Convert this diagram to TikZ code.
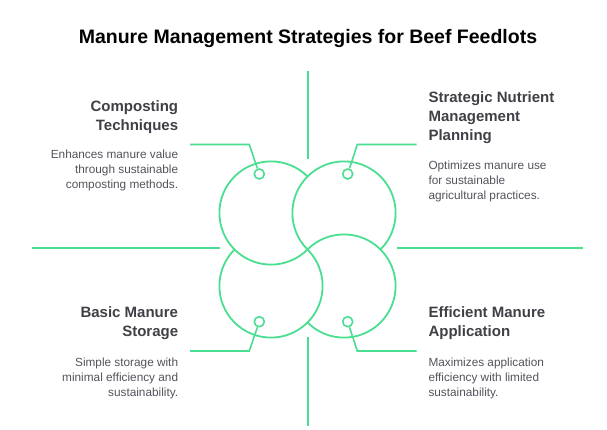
\documentclass[tikz,border=0pt]{standalone}
\usepackage{fontspec}
\setmainfont{Liberation Sans}
\usepackage{xcolor}
\usepackage{tikz}

\definecolor{ringgreen}{HTML}{4ADE91}
\definecolor{headgray}{HTML}{3F3F46}
\definecolor{descgray}{HTML}{52525B}

\begin{document}
\begin{tikzpicture}[x=1pt, y=-1pt,
    ring/.style={draw=ringgreen, line width=1.8pt},
    wire/.style={draw=ringgreen, line width=1.6pt},
    pin/.style={draw=ringgreen, line width=1.6pt, circle, minimum size=10pt, inner sep=0pt},
    head/.style={font=\bfseries\fontsize{15}{19}\selectfont, text=headgray, inner sep=0pt},
    desc/.style={font=\fontsize{11.8}{15}\selectfont, text=descgray, inner sep=0pt}]
                \useasboundingbox (0,0) rectangle (607,430);
                \node[font=\bfseries\fontsize{19.5}{23}\selectfont, inner sep=0pt, anchor=north] (title) at (308,29.3) {Manure Management Strategies for Beef Feedlots};

                % axis lines
                \coordinate (axN1) at (308,70.7);  \coordinate (axN2) at (308,159);
                \coordinate (axS1) at (308,337);   \coordinate (axS2) at (308,425.7);
                \coordinate (axW1) at (31.7,247.7); \coordinate (axW2) at (220,247.7);
                \coordinate (axE1) at (396.7,247.7); \coordinate (axE2) at (583,247.7);
                \draw[wire] (axN1) -- (axN2);
                \draw[wire] (axS1) -- (axS2);
                \draw[wire] (axW1) -- (axW2);
                \draw[wire] (axE1) -- (axE2);

                % four interlocking rings
                \coordinate (tl) at (271,213);
                \coordinate (tr) at (344,213);
                \coordinate (bl) at (271,286);
                \coordinate (br) at (344,286);
                \draw[ring] (tl) ++(45:51.6) arc[start angle=45, end angle=315, radius=51.6];
                \draw[ring] (tr) ++(135:51.6) arc[start angle=135, end angle=405, radius=51.6];
                \draw[ring] (br) ++(225:51.6) arc[start angle=225, end angle=495, radius=51.6];
                \draw[ring] (bl) ++(-45:51.6) arc[start angle=-45, end angle=225, radius=51.6];

                % pins and leaders
                \node[pin] (ptl) at (259.3,174) {};
                \node[pin] (ptr) at (347.7,174) {};
                \node[pin] (pbl) at (259.3,321.7) {};
                \node[pin] (pbr) at (347.7,321.7) {};
                \coordinate (ktl) at (249.3,144.5); \coordinate (etl) at (190,144.5);
                \coordinate (ktr) at (357.3,144.5); \coordinate (etr) at (416.7,144.5);
                \coordinate (kbl) at (249.3,351);   \coordinate (ebl) at (190,351);
                \coordinate (kbr) at (357.3,351);   \coordinate (ebr) at (416.7,351);
                \draw[wire] (ptl) -- (ktl) -- (etl);
                \draw[wire] (ptr) -- (ktr) -- (etr);
                \draw[wire] (pbl) -- (kbl) -- (ebl);
                \draw[wire] (pbr) -- (kbr) -- (ebr);

                % labels
                \node[head, align=right, anchor=north east] (hcomp) at (178.3,100.7) {Composting\\Techniques};
                \node[desc, align=right, anchor=north east] (dcomp) at (178.3,150) {Enhances manure value\\through sustainable\\composting methods.};
                \node[head, align=left, anchor=north west] (hplan) at (428.3,91) {Strategic Nutrient\\Management\\Planning};
                \node[desc, align=left, anchor=north west] (dplan) at (428.3,161) {Optimizes manure use\\for sustainable\\agricultural practices.};
                \node[head, align=right, anchor=north east] (hstor) at (178.3,306) {Basic Manure\\Storage};
                \node[desc, align=right, anchor=north east] (dstor) at (178.3,357.7) {Simple storage with\\minimal efficiency and\\sustainability.};
                \node[head, align=left, anchor=north west] (happ) at (428.3,306) {Efficient Manure\\Application};
                \node[desc, align=left, anchor=north west] (dapp) at (428.3,357.7) {Maximizes application\\efficiency with limited\\sustainability.};
            \end{tikzpicture}
\end{document}
